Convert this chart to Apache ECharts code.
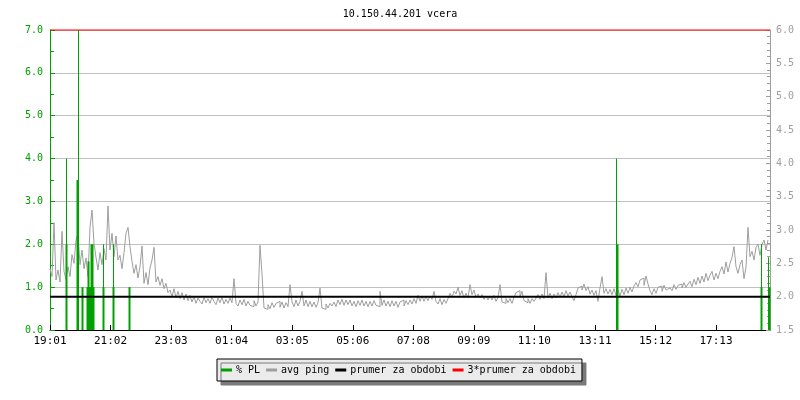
<!DOCTYPE html>
<html>
<head>
<meta charset="utf-8">
<script src="https://cdn.jsdelivr.net/npm/echarts@6/dist/echarts.min.js"></script>
<style>html,body{margin:0;padding:0;background:#fff}#c{width:800px;height:400px}</style>
</head>
<body>
<div id="c"></div>
<script>
// x axis tick labels (one every ~121.1 minutes from 19:01)
const tickLabels = ['19:01','21:02','23:03','01:04','03:05','05:06','07:08','09:09','11:10','13:11','15:12','17:13'];
const tickStepMin = 121.1;
const spanMin = 1440;
// avg ping samples, one every 4 minutes (right axis)
const pingStepMin = 4;
const avgPing = [
2.42,2.30,3.11,2.25,2.40,2.22,2.98,2.38,2.26,2.45,
2.30,2.63,2.50,2.85,2.95,2.48,2.70,2.42,2.58,2.30,
3.04,3.30,2.80,2.59,2.40,2.66,2.48,2.72,2.55,3.36,
2.70,2.95,2.60,2.91,2.55,2.62,2.42,2.66,2.95,3.04,
2.75,2.53,2.35,2.48,2.28,2.45,2.76,2.20,2.36,2.18,
2.43,2.55,2.74,2.22,2.30,2.17,2.27,2.12,2.20,2.06,
2.10,2.00,2.12,1.98,2.08,1.97,2.06,1.95,2.04,1.94,
2.02,1.92,2.00,1.90,1.98,1.93,1.89,1.99,1.91,1.97,
1.90,1.99,1.93,1.88,1.98,1.91,1.99,1.89,1.96,1.90,
1.98,1.91,2.27,1.90,1.86,1.95,1.88,1.96,1.86,1.93,
1.87,1.85,1.94,1.86,1.92,2.77,2.34,1.83,1.81,1.88,
1.82,1.91,1.84,1.90,1.93,1.84,1.92,1.83,1.91,1.85,
2.18,1.92,1.85,1.95,1.86,1.93,2.08,1.86,1.95,1.85,
1.93,1.85,1.92,1.84,1.91,2.13,1.83,1.81,1.89,1.83,
1.90,1.86,1.92,1.85,1.95,1.88,1.96,1.87,1.95,1.88,
1.95,1.86,1.93,1.85,1.94,1.87,1.95,1.86,1.93,1.85,
1.93,1.86,1.94,1.87,1.85,2.08,1.87,1.95,1.86,1.93,
1.85,1.94,1.86,1.93,1.84,1.92,1.95,1.86,1.94,1.88,
1.95,1.89,1.97,1.90,2.02,1.93,2.01,1.93,2.00,1.94,
2.01,1.96,2.08,1.93,1.89,1.97,1.88,1.96,1.90,1.97,
2.05,1.99,2.08,2.04,2.14,2.02,2.09,1.98,2.05,1.98,
2.18,2.03,2.10,1.99,2.04,1.98,2.03,1.96,2.01,1.95,
2.01,1.95,2.02,1.93,1.99,2.18,1.92,1.90,1.97,1.91,
1.97,1.90,1.99,2.06,2.09,2.00,2.08,1.94,1.91,1.97,
1.90,1.97,1.93,1.98,2.03,1.96,2.04,1.97,2.36,1.98,
2.05,1.97,2.04,1.98,2.06,1.99,2.07,2.00,2.09,2.01,
2.07,2.00,1.94,2.03,2.13,2.16,2.10,2.19,2.09,2.15,
2.04,2.10,2.02,2.09,1.93,2.13,2.30,2.05,2.12,2.04,
2.11,2.03,2.12,2.02,2.10,2.01,2.11,2.03,2.13,2.05,
2.14,2.07,2.16,2.21,2.15,2.25,2.28,2.17,2.31,2.19,
2.09,2.03,2.12,2.05,2.14,2.16,2.08,2.17,2.10,2.13,
2.16,2.09,2.18,2.11,2.17,2.19,2.13,2.21,2.14,2.19,
2.23,2.15,2.26,2.18,2.29,2.20,2.31,2.22,2.35,2.24,
2.32,2.38,2.25,2.35,2.27,2.38,2.45,2.34,2.52,2.37,
2.50,2.59,2.75,2.45,2.35,2.48,2.55,2.27,2.44,3.04,
2.60,2.68,2.55,2.74,2.79,2.62,2.78,2.85,2.70,2.85
];
// % packet loss spikes [minute, percent] (left axis)
const plWide = [[32,2.0],[54,3.5],[64,1.0],[74,1.0],[76,1.6],[78,1.0],[80,1.0],[82,2.0],[84,2.0],[86,1.0],[106,1.0],[126,1.0],[158,1.0],[1134,2.0],[1422,1.0],[1438,1.0]];
const plThin = [[33,4.0],[57,7.0],[107,2.0],[127,2.0],[1133,4.0],[1423,2.0],[1437,1.7]];
// period average and 3x average (right axis)
const prumer = 2.0;
const prumer3 = 6.0;

const pingData = avgPing.map((v, i) => [i * pingStepMin, v]);
const FONT = 'DejaVu Sans Mono';
const GREEN = '#00a000';
const GRAY = '#9e9e9e';

const chart = echarts.init(document.getElementById('c'), null, {renderer: 'canvas'});
chart.setOption({
  animation: false,
  backgroundColor: '#fff',
  title: {
    text: '10.150.44.201 vcera', left: 'center', top: 4,
    textStyle: {fontFamily: FONT, fontSize: 10, fontWeight: 'normal', color: '#000'}
  },
  legend: {
    left: 217, top: 359,
    data: ['% PL', 'avg ping', 'prumer za obdobi', '3*prumer za obdobi'],
    icon: 'rect', itemWidth: 11, itemHeight: 3, itemGap: 6,
    padding: [6, 6, 6, 4],
    backgroundColor: '#ebebeb', borderColor: '#000', borderWidth: 1, borderRadius: 0,
    shadowColor: '#7a7a7a', shadowOffsetX: 4, shadowOffsetY: 4, shadowBlur: 0.01,
    textStyle: {fontFamily: FONT, fontSize: 10, color: '#000', padding: [0, 0, 0, -1]}
  },
  grid: {left: 50, right: 30, top: 30, bottom: 70, containLabel: false},
  xAxis: {
    type: 'value', min: 0, max: spanMin, interval: tickStepMin,
    axisLine: {lineStyle: {color: '#000', width: 1}},
    axisTick: {inside: true, length: 5, lineStyle: {color: '#000'}},
    axisLabel: {
      fontFamily: FONT, fontSize: 11, color: '#000', margin: 6, showMaxLabel: false,
      formatter: v => tickLabels[Math.round(v / tickStepMin)] || ''
    },
    splitLine: {show: false}
  },
  yAxis: [{
    type: 'value', min: 0, max: 7, interval: 1, position: 'left',
    axisLine: {show: true, lineStyle: {color: GREEN, width: 1}},
    axisTick: {show: true, inside: true, length: 5, lineStyle: {color: GREEN}},
    minorTick: {show: true, splitNumber: 2, length: 4, lineStyle: {color: GREEN}},
    axisLabel: {fontFamily: FONT, fontSize: 10, color: GREEN, margin: 7, formatter: v => v.toFixed(1)},
    splitLine: {show: true, lineStyle: {color: '#c0c0c0', width: 1}}
  }, {
    type: 'value', min: 1.5, max: 6.0, interval: 0.5, position: 'right',
    axisLine: {show: true, lineStyle: {color: GRAY, width: 1}},
    axisTick: {show: true, inside: true, length: 4, lineStyle: {color: GRAY}},
    minorTick: {show: true, splitNumber: 5, length: 3, lineStyle: {color: GRAY}},
    axisLabel: {fontFamily: FONT, fontSize: 10, color: GRAY, margin: 6, formatter: v => v.toFixed(1)},
    splitLine: {show: false}
  }],
  series: [{
    name: 'avg ping', type: 'line', yAxisIndex: 1, step: 'end', data: pingData,
    symbol: 'none', lineStyle: {color: GRAY, width: 1}, itemStyle: {color: GRAY}, z: 2
  }, {
    name: '% PL', type: 'bar', yAxisIndex: 0, data: plWide, barWidth: 2, barGap: '-100%',
    itemStyle: {color: GREEN}, z: 3
  }, {
    name: '% PL', type: 'bar', yAxisIndex: 0, data: plThin, barWidth: 1, barGap: '-100%',
    itemStyle: {color: GREEN}, z: 3
  }, {
    name: 'prumer za obdobi', type: 'line', yAxisIndex: 1,
    data: [[0, prumer], [spanMin, prumer]], symbol: 'none',
    lineStyle: {color: '#000', width: 2}, itemStyle: {color: '#000'}, z: 4
  }, {
    name: '3*prumer za obdobi', type: 'line', yAxisIndex: 1, clip: false,
    data: [[0, prumer3], [spanMin, prumer3]], symbol: 'none',
    lineStyle: {color: '#ff0000', width: 1}, itemStyle: {color: '#ff0000'}, z: 5
  }]
});
</script>
</body>
</html>
